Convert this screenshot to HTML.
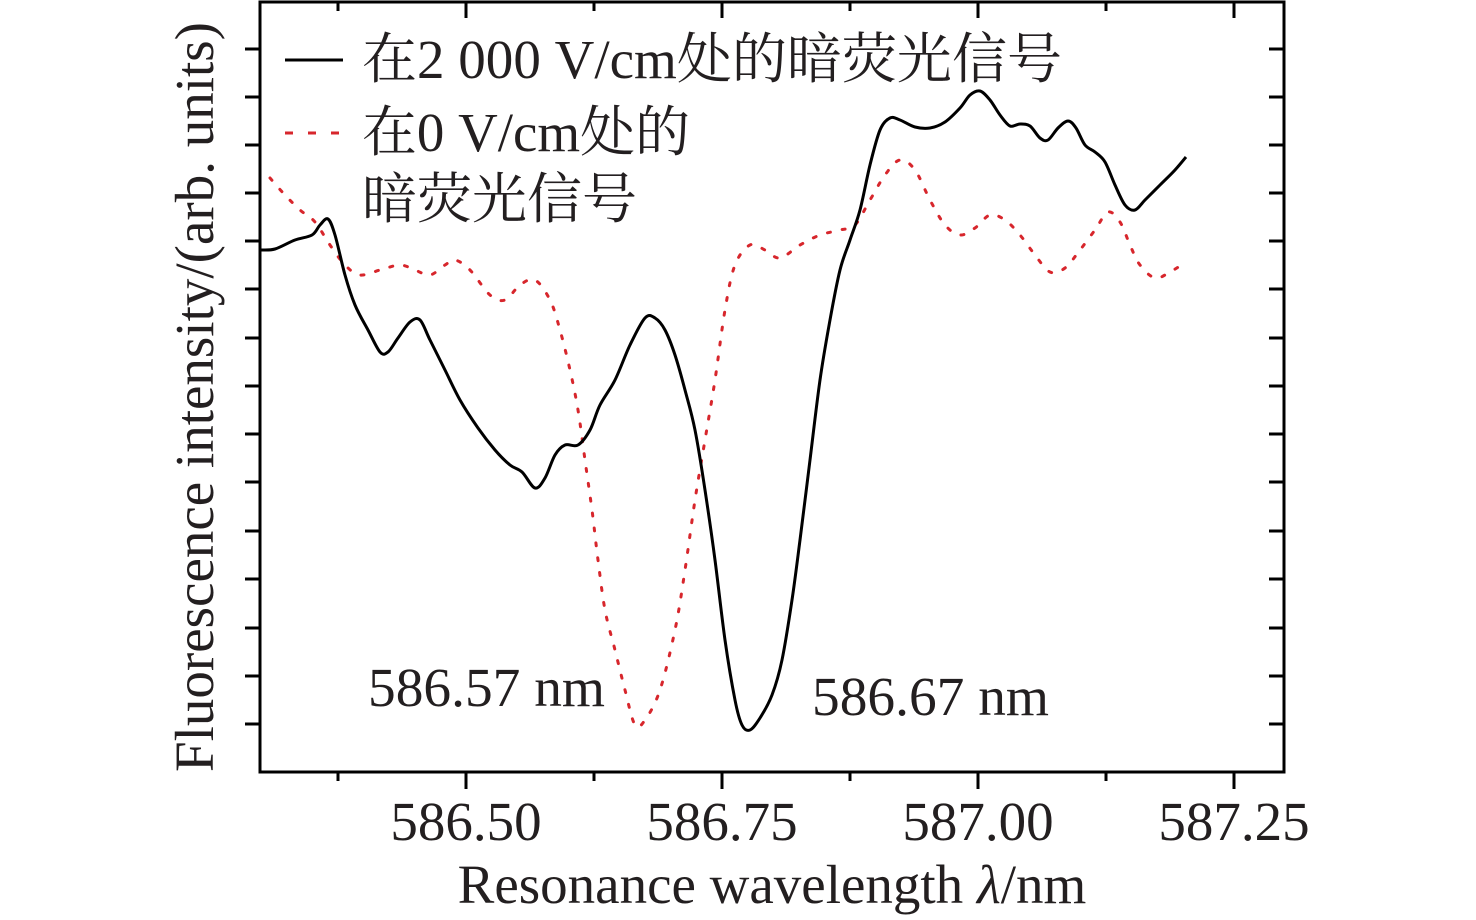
<!DOCTYPE html>
<html><head><meta charset="utf-8"><style>
html,body{margin:0;padding:0;background:#fff;}
svg{display:block;}
text{font-family:"Liberation Serif","Noto Serif CJK SC",serif;fill:#231f20;}
</style></head><body>
<svg width="1476" height="920" viewBox="0 0 1476 920" xmlns="http://www.w3.org/2000/svg">
<rect x="260" y="2" width="1024" height="770" fill="none" stroke="#000" stroke-width="3"/>
<g stroke="#000" stroke-width="3">
<path d="M338 772v9M466 772v17M594 772v9M722 772v17M850 772v9M978 772v17M1106 772v9M1234 772v17"/>
<path d="M338 2v9M466 2v16M594 2v9M722 2v16M850 2v9M978 2v16M1106 2v9M1234 2v16"/>
<path d="M245 49h15M245 97h15M245 145h15M245 193h15M245 241h15M245 289h15M245 338h15M245 386h15M245 434h15M245 482h15M245 531h15M245 579h15M245 628h15M245 676h15M245 724h15"/>
<path d="M1269 49h15M1269 97h15M1269 145h15M1269 193h15M1269 241h15M1269 289h15M1269 338h15M1269 386h15M1269 434h15M1269 482h15M1269 531h15M1269 579h15M1269 628h15M1269 676h15M1269 724h15"/>
</g>
<path id="red" fill="none" stroke="#d7262c" stroke-width="3" stroke-dasharray="3,12" stroke-linecap="round" d=""/>
<path id="blk" fill="none" stroke="#000" stroke-width="3" stroke-linejoin="round" d=""/>
<line x1="285" y1="60" x2="343" y2="60" stroke="#000" stroke-width="3"/>
<path d="M285 133h58" stroke="#d7262c" stroke-width="3" stroke-dasharray="8,15"/>
<g font-size="55">
<text x="362" y="78" textLength="700" lengthAdjust="spacingAndGlyphs">在2 000 V/cm处的暗荧光信号</text>
<text x="362" y="151" textLength="328" lengthAdjust="spacingAndGlyphs">在0 V/cm处的</text>
<text x="362" y="218" textLength="275" lengthAdjust="spacingAndGlyphs">暗荧光信号</text>
<text x="368" y="706" textLength="237" lengthAdjust="spacingAndGlyphs">586.57 nm</text>
<text x="812" y="715" textLength="237" lengthAdjust="spacingAndGlyphs">586.67 nm</text>
</g>
<g font-size="55" text-anchor="middle">
<text x="466" y="840">586.50</text>
<text x="722" y="840">586.75</text>
<text x="978" y="840">587.00</text>
<text x="1234" y="840">587.25</text>
</g>
<text x="772" y="903" font-size="55" text-anchor="middle">Resonance wavelength <tspan font-style="italic">λ</tspan>/nm</text>
<text transform="translate(213,397) rotate(-90)" font-size="55" text-anchor="middle">Fluorescence intensity/(arb. units)</text>
</svg>
<script>
function smooth(p){var d="M"+p[0]+" "+p[1];var n=p.length/2;
for(var i=0;i<n-1;i++){var x0=p[2*Math.max(i-1,0)],y0=p[2*Math.max(i-1,0)+1],x1=p[2*i],y1=p[2*i+1],x2=p[2*i+2],y2=p[2*i+3],j=Math.min(i+2,n-1),x3=p[2*j],y3=p[2*j+1];
d+=" C"+(x1+(x2-x0)/6).toFixed(1)+" "+(y1+(y2-y0)/6).toFixed(1)+" "+(x2-(x3-x1)/6).toFixed(1)+" "+(y2-(y3-y1)/6).toFixed(1)+" "+x2+" "+y2;}return d;}
var red=[270,178,285,195,300,210,315,222,330,245,345,265,360,275,380,270,400,265,415,270,430,275,445,265,455,260,470,270,490,295,505,300,520,285,535,280,550,300,560,330,570,370,578,410,585,460,592,510,598,560,605,610,615,650,625,690,635,725,645,720,660,690,675,630,685,570,695,500,705,440,715,380,725,310,735,265,750,245,765,250,780,258,800,245,820,235,840,230,855,225,870,200,885,175,900,160,915,170,930,200,945,225,960,235,975,228,990,215,1005,220,1020,235,1035,255,1050,272,1065,268,1080,250,1095,230,1108,212,1120,222,1130,245,1140,265,1155,278,1170,272,1186,262];
var blk=[260,250,275,249,295,240,312,235,320,225,328,219,335,235,345,275,355,305,368,330,380,352,388,352,398,338,410,322,420,320,430,340,445,370,460,400,478,428,495,450,510,465,522,472,535,488,545,478,555,455,565,445,578,445,590,430,600,405,615,380,630,345,645,318,655,318,665,330,675,355,685,390,695,430,705,490,715,560,725,640,735,700,742,725,750,730,760,718,772,695,782,660,792,600,800,540,810,460,820,380,830,320,840,270,850,240,860,210,870,165,880,130,890,118,900,120,915,127,930,128,945,122,960,108,970,95,980,91,990,100,1000,115,1010,126,1020,124,1030,126,1040,138,1048,140,1058,128,1068,121,1076,128,1085,145,1095,152,1105,162,1115,185,1125,205,1135,210,1145,200,1160,185,1175,170,1186,157];
document.getElementById("red").setAttribute("d",smooth(red));
document.getElementById("blk").setAttribute("d",smooth(blk));
</script>
</body></html>
